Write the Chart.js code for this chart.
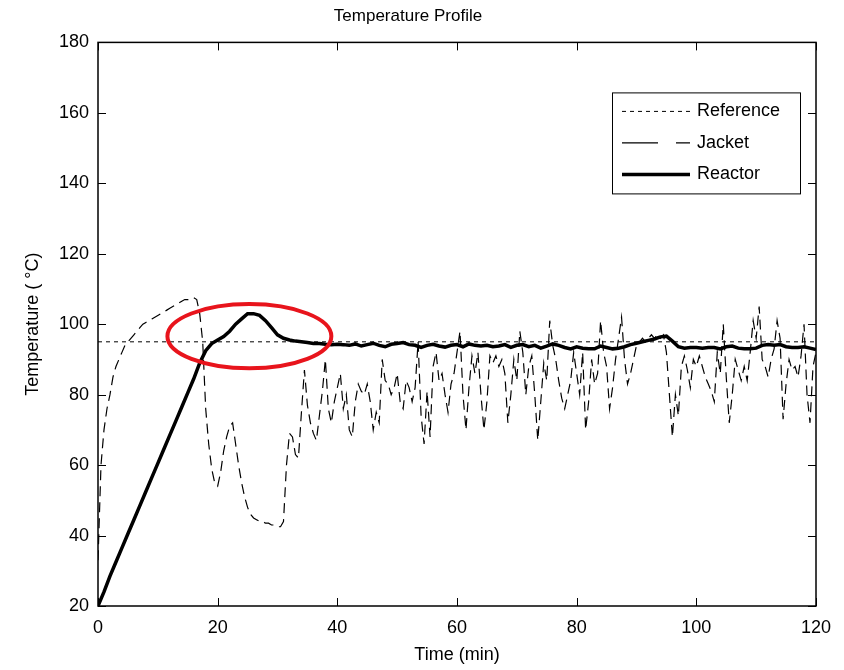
<!DOCTYPE html>
<html>
<head>
<meta charset="utf-8">
<script src="https://cdn.jsdelivr.net/npm/chart.js@4.4.1/dist/chart.umd.min.js"></script>
<style>
  html, body { margin: 0; padding: 0; background: #fff; }
  #wrap { width: 844px; height: 670px; }
</style>
</head>
<body>
<div id="wrap"><canvas id="tempChart"></canvas></div>
<script>
// ================================
// TEMPERATURE PROFILE (reactor / jacket / reference)
// ================================

const FONT = "'Liberation Sans', Arial, sans-serif";

// sampling step of each series (min)
const reactorStep = 1;
const jacketStep = 0.5;

const seriesLabels = ["Reference", "Jacket", "Reactor"];

const referenceTimes = [0, 120];
const referenceTemps = [95, 95];

// reactor temperature, one value per minute (0..120)
const reactorTemps = [
  20, 24, 28.5, 32.5, 36.5, 40.5, 44.5, 48.5, 52.5, 56.5,
  60.5, 64.5, 68.5, 72.5, 76.5, 80.5, 84.5, 89, 92.5, 94.5,
  95.5, 96.5, 98, 100, 101.5, 103, 103, 102.5, 101, 99,
  97, 96, 95.5, 95.2, 95, 94.8, 94.5, 94.5, 94.3, 94.2,
  94.3, 94.2, 94.0, 94.4, 93.8, 94.2, 94.6, 94.0, 93.6, 94.3,
  94.5, 94.8, 94.2, 94.0, 93.4, 94.0, 94.3, 93.8, 93.5, 94.0,
  94.2, 93.6, 94.4, 94.0, 93.8, 94.0, 93.6, 93.8, 94.2, 93.4,
  94.0, 94.2, 93.6, 94.0, 93.2, 93.8, 94.4, 94.0, 93.4, 93.0,
  93.6, 93.2, 93.0, 93.0, 93.8, 93.4, 93.0, 93.2, 93.6, 94.2,
  94.6, 95.0, 95.4, 95.8, 96.4, 96.6, 95.2, 93.6, 93.2, 93.4,
  93.4, 93.2, 93.4, 93.4, 93.0, 93.6, 93.8, 93.2, 93.0, 93.0,
  93.2, 94.0, 94.2, 94.0, 94.2, 93.6, 93.4, 93.4, 93.6, 93.2,
  92.8
];

// jacket temperature, one value every half minute (0..120)
const jacketTemps = [
  33, 60, 70, 76, 80, 85, 88, 90, 92, 94,
  95, 96, 97, 98, 99, 100, 100.5, 101, 101.5, 102,
  102.5, 103, 103.5, 104, 104.5, 105, 105.5, 106, 106.5, 107,
  107, 107, 107.5, 107, 103, 95, 76, 66, 59, 55,
  54, 58, 64, 68, 71, 72, 66, 60, 55, 51,
  48, 46, 45, 44.5, 44, 44, 43.5, 43.5, 43, 43,
  42.5, 42.5, 44, 60, 69, 68, 63, 62, 75, 87,
  77, 72, 69, 67, 74, 81, 90, 76, 72, 78,
  82,
  86, 76, 80, 70, 68, 78, 83, 81, 80, 83,
  78, 70, 75, 72, 90, 84, 83, 80, 82, 86,
  78, 76, 84, 82, 78, 82, 95, 74, 66, 81,
  68, 88, 92, 84, 86, 80, 75, 83, 86, 92,
  98, 80, 70, 82, 91, 86, 92, 80, 70, 78,
  91, 89, 91, 88, 90, 86, 72, 80, 90, 84,
  98, 92, 80, 88, 91, 80, 67, 78, 89, 84,
  101, 94, 90, 84, 79, 76, 80, 84, 92, 86,
  80, 92, 70, 78, 90, 83, 86, 101, 92, 88,
  76, 82, 90, 96, 102, 90, 83, 86, 90, 94,
  95, 96, 95, 96, 97, 96, 97, 96, 97, 92,
  80, 68, 80, 74, 88, 91, 87, 82, 90, 88,
  91, 88, 85, 83, 81, 78, 92, 86, 100, 85,
  72, 80, 90, 87, 84, 88, 84, 92, 101, 96,
  105, 90, 88, 85, 90, 93, 101, 96, 73, 83,
  90, 87, 88, 85, 91, 100, 80, 72, 88, 92
];

const xTicks = [0, 20, 40, 60, 80, 100, 120];
const yTicks = [20, 40, 60, 80, 100, 120, 140, 160, 180];

// highlighted overshoot (centre in data units, radii in data units)
const highlightCentre = [25.3, 96.6];
const highlightRadius = [13.7, 9.1];

const toPoints = (vals, step) => vals.map((v, i) => ({ x: i * step, y: v }));

// matlab-ish frame: box, inward ticks, legend box, red ellipse
const framePlugin = {
  id: "matlabFrame",
  afterDraw(chart) {
    const { ctx, chartArea: a, scales } = chart;
    const xs = scales.x, ys = scales.y;
    const tick = 8;
    ctx.save();
    ctx.strokeStyle = "#000";
    ctx.lineWidth = 1.5;
    ctx.setLineDash([]);
    ctx.strokeRect(a.left, a.top, a.right - a.left, a.bottom - a.top);
    ctx.lineWidth = 1;
    ctx.beginPath();
    xTicks.forEach(v => {
      const px = Math.round(xs.getPixelForValue(v)) + 0.5;
      ctx.moveTo(px, a.bottom); ctx.lineTo(px, a.bottom - tick);
      ctx.moveTo(px, a.top); ctx.lineTo(px, a.top + tick);
    });
    yTicks.forEach(v => {
      const py = Math.round(ys.getPixelForValue(v)) + 0.5;
      ctx.moveTo(a.left, py); ctx.lineTo(a.left + tick, py);
      ctx.moveTo(a.right, py); ctx.lineTo(a.right - tick, py);
    });
    ctx.stroke();

    // legend
    const lx = a.right - 204, ly = a.top + 50, lw = 188, lh = 101;
    ctx.fillStyle = "#fff";
    ctx.fillRect(lx, ly, lw, lh);
    ctx.lineWidth = 1;
    ctx.strokeRect(lx + 0.5, ly + 0.5, lw, lh);
    const styles = [
      { dash: [4, 4], width: 1 },
      { dash: [36, 18], width: 1.2 },
      { dash: [], width: 3.5 }
    ];
    ctx.font = "18px " + FONT;
    ctx.textBaseline = "middle";
    ctx.textAlign = "left";
    seriesLabels.forEach((lab, i) => {
      const yy = ly + 19 + i * 31.5;
      ctx.beginPath();
      ctx.setLineDash(styles[i].dash);
      ctx.lineWidth = styles[i].width;
      ctx.moveTo(lx + 10, yy);
      ctx.lineTo(lx + 78, yy);
      ctx.stroke();
      ctx.fillStyle = "#000";
      ctx.fillText(lab, lx + 85, yy);
    });
    ctx.setLineDash([]);

    // red ellipse
    const cx = xs.getPixelForValue(highlightCentre[0]);
    const cy = ys.getPixelForValue(highlightCentre[1]);
    const rx = xs.getPixelForValue(highlightCentre[0] + highlightRadius[0]) - cx;
    const ry = cy - ys.getPixelForValue(highlightCentre[1] + highlightRadius[1]);
    ctx.beginPath();
    ctx.ellipse(cx, cy, rx, ry, 0, 0, Math.PI * 2);
    ctx.strokeStyle = "#e8141c";
    ctx.lineWidth = 4;
    ctx.stroke();
    ctx.restore();
  }
};

const ctx = document.getElementById("tempChart").getContext("2d");

new Chart(ctx, {
  type: "line",
  data: {
    datasets: [
      {
        label: seriesLabels[0],
        data: referenceTimes.map((t, i) => ({ x: t, y: referenceTemps[i] })),
        borderColor: "#000",
        borderWidth: 1,
        borderDash: [4, 4],
        pointRadius: 0
      },
      {
        label: seriesLabels[1],
        data: toPoints(jacketTemps, jacketStep),
        borderColor: "#000",
        borderWidth: 1.2,
        borderDash: [10, 6],
        pointRadius: 0
      },
      {
        label: seriesLabels[2],
        data: toPoints(reactorTemps, reactorStep),
        borderColor: "#000",
        borderWidth: 3.5,
        pointRadius: 0
      }
    ]
  },
  options: {
    responsive: true,
    maintainAspectRatio: false,
    animation: false,
    layout: { padding: { left: 0, right: 28, top: 0, bottom: 0 } },
    plugins: {
      legend: { display: false },
      tooltip: { enabled: false },
      title: {
        display: true,
        text: "Temperature Profile",
        color: "#000",
        font: { family: FONT, size: 17, weight: "normal" },
        padding: { top: 6, bottom: 16 }
      }
    },
    scales: {
      x: {
        type: "linear",
        min: 0,
        max: 120,
        afterBuildTicks: s => { s.ticks = xTicks.map(v => ({ value: v })); },
        afterFit: s => { s.height = 64; },
        grid: { display: false, drawTicks: false },
        border: { display: false },
        ticks: { color: "#000", padding: 11, maxRotation: 0, font: { family: FONT, size: 18 } },
        title: {
          display: true,
          text: "Time (min)",
          color: "#000",
          font: { family: FONT, size: 18 },
          padding: { top: 0, bottom: 4 }
        }
      },
      y: {
        min: 20,
        max: 180,
        afterBuildTicks: s => { s.ticks = yTicks.map(v => ({ value: v })); },
        afterFit: s => { s.width = 98; },
        grid: { display: false, drawTicks: false },
        border: { display: false },
        ticks: { color: "#000", padding: 9, font: { family: FONT, size: 18 } },
        title: {
          display: true,
          text: "Temperature ( °C)",
          color: "#000",
          font: { family: FONT, size: 18 },
          padding: { top: 22, bottom: 0 }
        }
      }
    }
  },
  plugins: [framePlugin]
});
</script>
</body>
</html>
